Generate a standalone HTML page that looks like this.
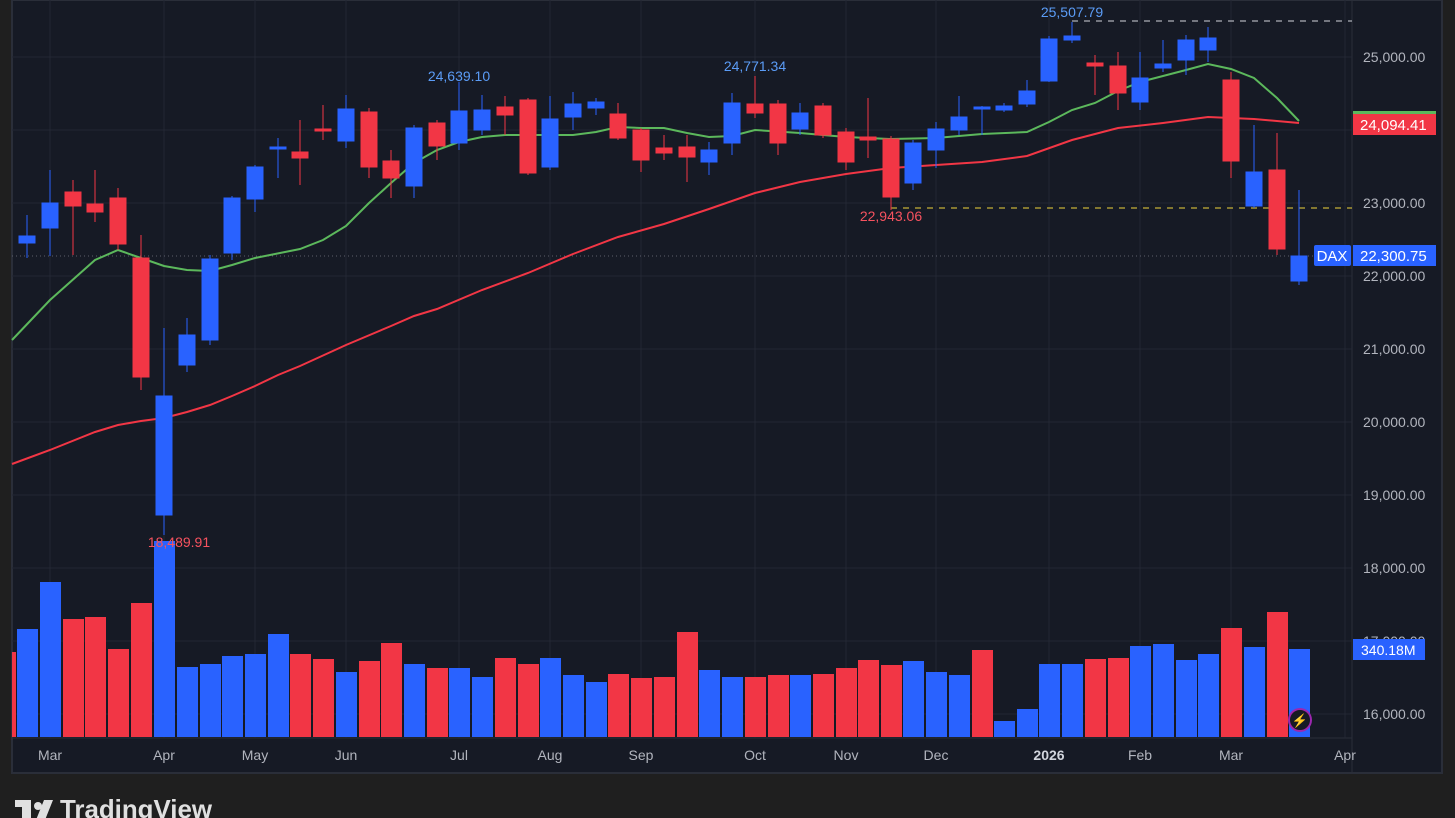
<!DOCTYPE html>
<html><head><meta charset="utf-8"><style>
html,body{margin:0;padding:0;background:#1f1f1f;width:1455px;height:818px;overflow:hidden;font-family:"Liberation Sans",sans-serif}
svg{display:block}
</style></head><body>
<svg width="1455" height="818" xmlns="http://www.w3.org/2000/svg" font-family="Liberation Sans, sans-serif">
<rect width="1455" height="818" fill="#1f1f1f"/>
<rect x="12" y="0" width="1430" height="773" fill="#161a25" stroke="#2a2e39" stroke-width="2"/>
<line x1="1352" y1="0" x2="1352" y2="773" stroke="#2a2e39"/>
<line x1="12" y1="738" x2="1352" y2="738" stroke="#2a2e39"/>
<g stroke="#232734" stroke-width="1">
<line x1="12" y1="57" x2="1352" y2="57"/><line x1="12" y1="130" x2="1352" y2="130"/><line x1="12" y1="203" x2="1352" y2="203"/><line x1="12" y1="276" x2="1352" y2="276"/><line x1="12" y1="349" x2="1352" y2="349"/><line x1="12" y1="422" x2="1352" y2="422"/><line x1="12" y1="495" x2="1352" y2="495"/><line x1="12" y1="568" x2="1352" y2="568"/><line x1="12" y1="641" x2="1352" y2="641"/><line x1="12" y1="714" x2="1352" y2="714"/>
<line x1="50" y1="0" x2="50" y2="738"/><line x1="164" y1="0" x2="164" y2="738"/><line x1="255" y1="0" x2="255" y2="738"/><line x1="346" y1="0" x2="346" y2="738"/><line x1="459" y1="0" x2="459" y2="738"/><line x1="550" y1="0" x2="550" y2="738"/><line x1="641" y1="0" x2="641" y2="738"/><line x1="755" y1="0" x2="755" y2="738"/><line x1="846" y1="0" x2="846" y2="738"/><line x1="936" y1="0" x2="936" y2="738"/><line x1="1049" y1="0" x2="1049" y2="738"/><line x1="1140" y1="0" x2="1140" y2="738"/><line x1="1231" y1="0" x2="1231" y2="738"/><line x1="1345" y1="0" x2="1345" y2="738"/>
</g>
<g>
<rect x="12" y="652" width="4" height="85" fill="#f23645"/>
<rect x="17" y="629" width="21" height="108" fill="#2962ff"/>
<rect x="40" y="582" width="21" height="155" fill="#2962ff"/>
<rect x="63" y="619" width="21" height="118" fill="#f23645"/>
<rect x="85" y="617" width="21" height="120" fill="#f23645"/>
<rect x="108" y="649" width="21" height="88" fill="#f23645"/>
<rect x="131" y="603" width="21" height="134" fill="#f23645"/>
<rect x="154" y="541" width="21" height="196" fill="#2962ff"/>
<rect x="177" y="667" width="21" height="70" fill="#2962ff"/>
<rect x="200" y="664" width="21" height="73" fill="#2962ff"/>
<rect x="222" y="656" width="21" height="81" fill="#2962ff"/>
<rect x="245" y="654" width="21" height="83" fill="#2962ff"/>
<rect x="268" y="634" width="21" height="103" fill="#2962ff"/>
<rect x="290" y="654" width="21" height="83" fill="#f23645"/>
<rect x="313" y="659" width="21" height="78" fill="#f23645"/>
<rect x="336" y="672" width="21" height="65" fill="#2962ff"/>
<rect x="359" y="661" width="21" height="76" fill="#f23645"/>
<rect x="381" y="643" width="21" height="94" fill="#f23645"/>
<rect x="404" y="664" width="21" height="73" fill="#2962ff"/>
<rect x="427" y="668" width="21" height="69" fill="#f23645"/>
<rect x="449" y="668" width="21" height="69" fill="#2962ff"/>
<rect x="472" y="677" width="21" height="60" fill="#2962ff"/>
<rect x="495" y="658" width="21" height="79" fill="#f23645"/>
<rect x="518" y="664" width="21" height="73" fill="#f23645"/>
<rect x="540" y="658" width="21" height="79" fill="#2962ff"/>
<rect x="563" y="675" width="21" height="62" fill="#2962ff"/>
<rect x="586" y="682" width="21" height="55" fill="#2962ff"/>
<rect x="608" y="674" width="21" height="63" fill="#f23645"/>
<rect x="631" y="678" width="21" height="59" fill="#f23645"/>
<rect x="654" y="677" width="21" height="60" fill="#f23645"/>
<rect x="677" y="632" width="21" height="105" fill="#f23645"/>
<rect x="699" y="670" width="21" height="67" fill="#2962ff"/>
<rect x="722" y="677" width="21" height="60" fill="#2962ff"/>
<rect x="745" y="677" width="21" height="60" fill="#f23645"/>
<rect x="768" y="675" width="21" height="62" fill="#f23645"/>
<rect x="790" y="675" width="21" height="62" fill="#2962ff"/>
<rect x="813" y="674" width="21" height="63" fill="#f23645"/>
<rect x="836" y="668" width="21" height="69" fill="#f23645"/>
<rect x="858" y="660" width="21" height="77" fill="#f23645"/>
<rect x="881" y="665" width="21" height="72" fill="#f23645"/>
<rect x="903" y="661" width="21" height="76" fill="#2962ff"/>
<rect x="926" y="672" width="21" height="65" fill="#2962ff"/>
<rect x="949" y="675" width="21" height="62" fill="#2962ff"/>
<rect x="972" y="650" width="21" height="87" fill="#f23645"/>
<rect x="994" y="721" width="21" height="16" fill="#2962ff"/>
<rect x="1017" y="709" width="21" height="28" fill="#2962ff"/>
<rect x="1039" y="664" width="21" height="73" fill="#2962ff"/>
<rect x="1062" y="664" width="21" height="73" fill="#2962ff"/>
<rect x="1085" y="659" width="21" height="78" fill="#f23645"/>
<rect x="1108" y="658" width="21" height="79" fill="#f23645"/>
<rect x="1130" y="646" width="21" height="91" fill="#2962ff"/>
<rect x="1153" y="644" width="21" height="93" fill="#2962ff"/>
<rect x="1176" y="660" width="21" height="77" fill="#2962ff"/>
<rect x="1198" y="654" width="21" height="83" fill="#2962ff"/>
<rect x="1221" y="628" width="21" height="109" fill="#f23645"/>
<rect x="1244" y="647" width="21" height="90" fill="#2962ff"/>
<rect x="1267" y="612" width="21" height="125" fill="#f23645"/>
<rect x="1289" y="649" width="21" height="88" fill="#2962ff"/>
</g>
<line x1="12" y1="256" x2="1352" y2="256" stroke="#5d606b" stroke-dasharray="1,3"/>
<line x1="1072" y1="21" x2="1352" y2="21" stroke="#d1d4dc" stroke-dasharray="6,6"/>
<line x1="891" y1="208" x2="1352" y2="208" stroke="#f0d43a" stroke-dasharray="6,6"/>
<polyline fill="none" stroke="#f23645" stroke-width="2" points="12,464 50,450 95,432 118,425 141,421 164,418 187,412 210,405 232,396 255,386 278,375 300,366 346,345 391,326 414,316 437,309 482,290 528,273 573,254 618,237 664,224 709,209 755,193 800,182 846,174 891,168 936,165 982,162 1027,156 1072,140 1118,128 1163,123 1208,117 1254,119 1299,123"/>
<polyline fill="none" stroke="#5cb85c" stroke-width="2" points="12,340 50,300 95,260 118,250 141,258 164,266 187,270 210,271 232,265 255,258 300,249 323,240 346,226 369,203 391,183 414,163 437,150 459,142 482,137 505,135 550,135 573,135 596,132 618,127 641,128 664,128 687,133 709,137 732,136 755,130 800,133 846,137 891,139 936,138 982,134 1027,132 1049,122 1072,110 1095,103 1118,91 1140,82 1163,76 1186,70 1208,64 1231,69 1254,78 1277,98 1299,121"/>
<g stroke-width="1">
<g fill="#2962ff" stroke="#2962ff"><line x1="27" y1="215" x2="27" y2="258"/><rect x="19" y="236" width="16" height="7"/></g>
<g fill="#2962ff" stroke="#2962ff"><line x1="50" y1="170" x2="50" y2="256"/><rect x="42" y="203" width="16" height="25"/></g>
<g fill="#f23645" stroke="#f23645"><line x1="73" y1="180" x2="73" y2="255"/><rect x="65" y="192" width="16" height="14"/></g>
<g fill="#f23645" stroke="#f23645"><line x1="95" y1="170" x2="95" y2="222"/><rect x="87" y="204" width="16" height="8"/></g>
<g fill="#f23645" stroke="#f23645"><line x1="118" y1="188" x2="118" y2="250"/><rect x="110" y="198" width="16" height="46"/></g>
<g fill="#f23645" stroke="#f23645"><line x1="141" y1="235" x2="141" y2="390"/><rect x="133" y="258" width="16" height="119"/></g>
<g fill="#2962ff" stroke="#2962ff"><line x1="164" y1="328" x2="164" y2="535"/><rect x="156" y="396" width="16" height="119"/></g>
<g fill="#2962ff" stroke="#2962ff"><line x1="187" y1="318" x2="187" y2="372"/><rect x="179" y="335" width="16" height="30"/></g>
<g fill="#2962ff" stroke="#2962ff"><line x1="210" y1="255" x2="210" y2="345"/><rect x="202" y="259" width="16" height="81"/></g>
<g fill="#2962ff" stroke="#2962ff"><line x1="232" y1="196" x2="232" y2="260"/><rect x="224" y="198" width="16" height="55"/></g>
<g fill="#2962ff" stroke="#2962ff"><line x1="255" y1="165" x2="255" y2="212"/><rect x="247" y="167" width="16" height="32"/></g>
<g fill="#2962ff" stroke="#2962ff"><line x1="278" y1="138" x2="278" y2="178"/><rect x="270" y="147" width="16" height="2"/></g>
<g fill="#f23645" stroke="#f23645"><line x1="300" y1="120" x2="300" y2="185"/><rect x="292" y="152" width="16" height="6"/></g>
<g fill="#f23645" stroke="#f23645"><line x1="323" y1="105" x2="323" y2="140"/><rect x="315" y="129" width="16" height="2"/></g>
<g fill="#2962ff" stroke="#2962ff"><line x1="346" y1="95" x2="346" y2="148"/><rect x="338" y="109" width="16" height="32"/></g>
<g fill="#f23645" stroke="#f23645"><line x1="369" y1="108" x2="369" y2="178"/><rect x="361" y="112" width="16" height="55"/></g>
<g fill="#f23645" stroke="#f23645"><line x1="391" y1="150" x2="391" y2="198"/><rect x="383" y="161" width="16" height="17"/></g>
<g fill="#2962ff" stroke="#2962ff"><line x1="414" y1="125" x2="414" y2="198"/><rect x="406" y="128" width="16" height="58"/></g>
<g fill="#f23645" stroke="#f23645"><line x1="437" y1="120" x2="437" y2="160"/><rect x="429" y="123" width="16" height="23"/></g>
<g fill="#2962ff" stroke="#2962ff"><line x1="459" y1="82" x2="459" y2="150"/><rect x="451" y="111" width="16" height="32"/></g>
<g fill="#2962ff" stroke="#2962ff"><line x1="482" y1="95" x2="482" y2="135"/><rect x="474" y="110" width="16" height="20"/></g>
<g fill="#f23645" stroke="#f23645"><line x1="505" y1="96" x2="505" y2="135"/><rect x="497" y="107" width="16" height="8"/></g>
<g fill="#f23645" stroke="#f23645"><line x1="528" y1="98" x2="528" y2="175"/><rect x="520" y="100" width="16" height="73"/></g>
<g fill="#2962ff" stroke="#2962ff"><line x1="550" y1="96" x2="550" y2="170"/><rect x="542" y="119" width="16" height="48"/></g>
<g fill="#2962ff" stroke="#2962ff"><line x1="573" y1="92" x2="573" y2="130"/><rect x="565" y="104" width="16" height="13"/></g>
<g fill="#2962ff" stroke="#2962ff"><line x1="596" y1="98" x2="596" y2="115"/><rect x="588" y="102" width="16" height="6"/></g>
<g fill="#f23645" stroke="#f23645"><line x1="618" y1="103" x2="618" y2="140"/><rect x="610" y="114" width="16" height="24"/></g>
<g fill="#f23645" stroke="#f23645"><line x1="641" y1="128" x2="641" y2="172"/><rect x="633" y="130" width="16" height="30"/></g>
<g fill="#f23645" stroke="#f23645"><line x1="664" y1="135" x2="664" y2="160"/><rect x="656" y="148" width="16" height="5"/></g>
<g fill="#f23645" stroke="#f23645"><line x1="687" y1="135" x2="687" y2="182"/><rect x="679" y="147" width="16" height="10"/></g>
<g fill="#2962ff" stroke="#2962ff"><line x1="709" y1="142" x2="709" y2="175"/><rect x="701" y="150" width="16" height="12"/></g>
<g fill="#2962ff" stroke="#2962ff"><line x1="732" y1="93" x2="732" y2="155"/><rect x="724" y="103" width="16" height="40"/></g>
<g fill="#f23645" stroke="#f23645"><line x1="755" y1="76" x2="755" y2="118"/><rect x="747" y="104" width="16" height="9"/></g>
<g fill="#f23645" stroke="#f23645"><line x1="778" y1="100" x2="778" y2="155"/><rect x="770" y="104" width="16" height="39"/></g>
<g fill="#2962ff" stroke="#2962ff"><line x1="800" y1="103" x2="800" y2="135"/><rect x="792" y="113" width="16" height="16"/></g>
<g fill="#f23645" stroke="#f23645"><line x1="823" y1="103" x2="823" y2="138"/><rect x="815" y="106" width="16" height="29"/></g>
<g fill="#f23645" stroke="#f23645"><line x1="846" y1="128" x2="846" y2="170"/><rect x="838" y="132" width="16" height="30"/></g>
<g fill="#f23645" stroke="#f23645"><line x1="868" y1="98" x2="868" y2="158"/><rect x="860" y="137" width="16" height="3"/></g>
<g fill="#f23645" stroke="#f23645"><line x1="891" y1="136" x2="891" y2="210"/><rect x="883" y="139" width="16" height="58"/></g>
<g fill="#2962ff" stroke="#2962ff"><line x1="913" y1="140" x2="913" y2="190"/><rect x="905" y="143" width="16" height="40"/></g>
<g fill="#2962ff" stroke="#2962ff"><line x1="936" y1="122" x2="936" y2="168"/><rect x="928" y="129" width="16" height="21"/></g>
<g fill="#2962ff" stroke="#2962ff"><line x1="959" y1="96" x2="959" y2="135"/><rect x="951" y="117" width="16" height="13"/></g>
<g fill="#2962ff" stroke="#2962ff"><line x1="982" y1="106" x2="982" y2="135"/><rect x="974" y="107" width="16" height="2"/></g>
<g fill="#2962ff" stroke="#2962ff"><line x1="1004" y1="103" x2="1004" y2="112"/><rect x="996" y="106" width="16" height="4"/></g>
<g fill="#2962ff" stroke="#2962ff"><line x1="1027" y1="80" x2="1027" y2="107"/><rect x="1019" y="91" width="16" height="13"/></g>
<g fill="#2962ff" stroke="#2962ff"><line x1="1049" y1="36" x2="1049" y2="82"/><rect x="1041" y="39" width="16" height="42"/></g>
<g fill="#2962ff" stroke="#2962ff"><line x1="1072" y1="22" x2="1072" y2="43"/><rect x="1064" y="36" width="16" height="4"/></g>
<g fill="#f23645" stroke="#f23645"><line x1="1095" y1="55" x2="1095" y2="95"/><rect x="1087" y="63" width="16" height="3"/></g>
<g fill="#f23645" stroke="#f23645"><line x1="1118" y1="52" x2="1118" y2="110"/><rect x="1110" y="66" width="16" height="27"/></g>
<g fill="#2962ff" stroke="#2962ff"><line x1="1140" y1="52" x2="1140" y2="110"/><rect x="1132" y="78" width="16" height="24"/></g>
<g fill="#2962ff" stroke="#2962ff"><line x1="1163" y1="40" x2="1163" y2="72"/><rect x="1155" y="64" width="16" height="4"/></g>
<g fill="#2962ff" stroke="#2962ff"><line x1="1186" y1="35" x2="1186" y2="75"/><rect x="1178" y="40" width="16" height="20"/></g>
<g fill="#2962ff" stroke="#2962ff"><line x1="1208" y1="27" x2="1208" y2="62"/><rect x="1200" y="38" width="16" height="12"/></g>
<g fill="#f23645" stroke="#f23645"><line x1="1231" y1="72" x2="1231" y2="178"/><rect x="1223" y="80" width="16" height="81"/></g>
<g fill="#2962ff" stroke="#2962ff"><line x1="1254" y1="125" x2="1254" y2="208"/><rect x="1246" y="172" width="16" height="34"/></g>
<g fill="#f23645" stroke="#f23645"><line x1="1277" y1="133" x2="1277" y2="255"/><rect x="1269" y="170" width="16" height="79"/></g>
<g fill="#2962ff" stroke="#2962ff"><line x1="1299" y1="190" x2="1299" y2="285"/><rect x="1291" y="256" width="16" height="25"/></g>
</g>
<g font-size="14">
<text x="1072" y="17" fill="#5b9cf6" text-anchor="middle">25,507.79</text>
<text x="459" y="81" fill="#5b9cf6" text-anchor="middle">24,639.10</text>
<text x="755" y="71" fill="#5b9cf6" text-anchor="middle">24,771.34</text>
<text x="891" y="221" fill="#f7525f" text-anchor="middle">22,943.06</text>
<text x="179" y="547" fill="#f7525f" text-anchor="middle">18,489.91</text>
</g>
<circle cx="1300" cy="720" r="11" fill="#161a25" stroke="#9c27b0" stroke-width="2"/>
<text x="1300" y="725" fill="#ce93d8" font-size="13" text-anchor="middle">⚡</text>
<g font-size="14" fill="#b2b5be">
<text x="1363" y="62">25,000.00</text>
<text x="1363" y="208">23,000.00</text>
<text x="1363" y="281">22,000.00</text>
<text x="1363" y="354">21,000.00</text>
<text x="1363" y="427">20,000.00</text>
<text x="1363" y="500">19,000.00</text>
<text x="1363" y="573">18,000.00</text>
<text x="1363" y="646">17,000.00</text>
<text x="1363" y="719">16,000.00</text>
</g>
<rect x="1353" y="111" width="83" height="3" fill="#5cb85c"/>
<rect x="1353" y="114" width="83" height="21" fill="#f23645"/>
<text x="1360" y="130" font-size="15" fill="#fff">24,094.41</text>
<rect x="1314" y="245" width="37" height="21" rx="2" fill="#2962ff"/>
<text x="1332" y="261" font-size="15" fill="#fff" text-anchor="middle">DAX</text>
<rect x="1353" y="245" width="83" height="21" fill="#2962ff"/>
<text x="1360" y="261" font-size="15" fill="#fff">22,300.75</text>
<rect x="1353" y="639" width="72" height="21" fill="#2962ff"/>
<text x="1361" y="655" font-size="14" fill="#fff">340.18M</text>
<g font-size="14" fill="#b2b5be" text-anchor="middle">
<text x="50" y="760">Mar</text><text x="164" y="760">Apr</text><text x="255" y="760">May</text><text x="346" y="760">Jun</text><text x="459" y="760">Jul</text><text x="550" y="760">Aug</text><text x="641" y="760">Sep</text><text x="755" y="760">Oct</text><text x="846" y="760">Nov</text><text x="936" y="760">Dec</text><text x="1049" y="760" font-weight="bold" fill="#d1d4dc">2026</text><text x="1140" y="760">Feb</text><text x="1231" y="760">Mar</text><text x="1345" y="760">Apr</text>
</g>
<g fill="#e0e0e0">
<rect x="15" y="800" width="16" height="7"/><rect x="22" y="800" width="9" height="20"/>
<circle cx="38" cy="806" r="4"/>
<polygon points="44,800 53,800 45,820 36,820"/>
<text x="60" y="818" font-size="26" font-weight="bold" textLength="152" lengthAdjust="spacingAndGlyphs">TradingView</text>
</g>
</svg>
</body></html>
